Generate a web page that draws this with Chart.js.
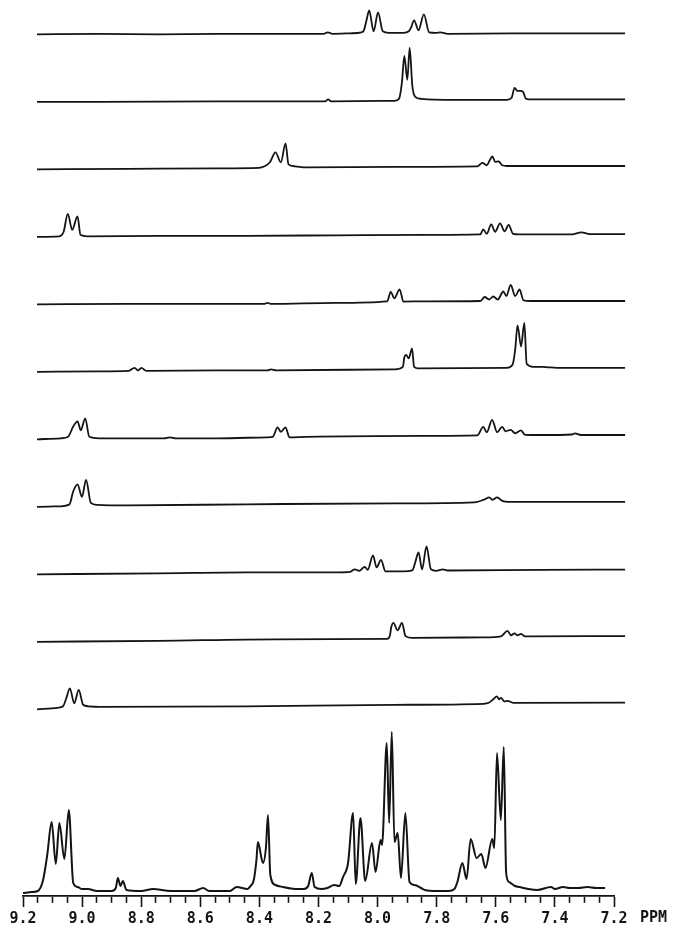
<!DOCTYPE html>
<html>
<head>
<meta charset="utf-8">
<script src="https://cdn.jsdelivr.net/npm/chart.js@4.4.1/dist/chart.umd.min.js"></script>
<style>
html,body{margin:0;padding:0;background:#fff;}
#wrap{width:689px;height:928px;position:relative;}
</style>
</head>
<body>
<div id="wrap"><canvas id="c" width="689" height="928"></canvas></div>
<script>
// ---------------- DATA (chemical shift in ppm, intensity in arbitrary units) ----------------
const majorTicks = [9.2, 9.0, 8.8, 8.6, 8.4, 8.2, 8.0, 7.8, 7.6, 7.4, 7.2];
const axisUnit = "PPM";

// stacked 1D slices, top to bottom
const trace1Ppm = [9.21, 9.0, 8.8, 8.6, 8.4, 8.24, 8.226, 8.21, 8.15, 8.112, 8.104, 8.095, 8.086, 8.071, 8.056, 8.040, 8.02, 7.97, 7.952, 7.944, 7.934, 7.919, 7.901, 7.883, 7.86, 7.845, 7.82, 7.6, 7.4, 7.22];
const trace1Int = [0, 0.5, 0, 0.5, 0.5, 0.5, 2, 0.5, 1, 2, 4, 14, 24, 3, 22, 3, 1.5, 1.5, 3, 7, 14, 4, 20, 2, 1.5, 2, 0.5, 1, 1, 1];

const trace2Ppm = [9.21, 9.0, 8.6, 8.4, 8.235, 8.225, 8.215, 8.0, 7.985, 7.975, 7.967, 7.957, 7.949, 7.940, 7.930, 7.91, 7.80, 7.62, 7.604, 7.594, 7.585, 7.575, 7.565, 7.556, 7.545, 7.4, 7.22];
const trace2Int = [0, 0, 0.5, 0.5, 0.5, 2.5, 0.5, 1, 3, 20, 46, 22, 54, 16, 5, 3, 2, 2, 4, 14, 11, 11, 10, 3, 2.5, 2.5, 2.4];

const trace3Ppm = [9.21, 8.9, 8.6, 8.46, 8.44, 8.422, 8.403, 8.385, 8.369, 8.359, 8.337, 8.30, 8.0, 7.72, 7.703, 7.688, 7.678, 7.669, 7.660, 7.648, 7.636, 7.62, 7.4, 7.22];
const trace3Int = [0, 0.5, 1, 1.5, 3, 7, 17, 7, 26, 5, 3, 2, 2.5, 3, 6.5, 4, 9, 13, 7.5, 8, 4, 3.3, 3.3, 3.3];

const trace4Ppm = [9.21, 9.135, 9.12, 9.106, 9.091, 9.073, 9.063, 9.04, 8.8, 8.5, 8.2, 7.9, 7.71, 7.700, 7.688, 7.673, 7.660, 7.643, 7.628, 7.614, 7.599, 7.58, 7.40, 7.368, 7.34, 7.22];
const trace4Int = [0, 0.5, 5, 23, 7, 20.5, 2, 0.5, 1, 1, 1.5, 2, 2.5, 7.5, 3, 12.5, 5, 13.5, 5.5, 12, 3, 2.5, 2.5, 4.5, 2.7, 2.7];

const trace5Ppm = [9.21, 8.9, 8.6, 8.44, 8.43, 8.42, 8.2, 8.025, 8.013, 8.001, 7.983, 7.970, 7.90, 7.71, 7.695, 7.680, 7.666, 7.651, 7.632, 7.622, 7.607, 7.592, 7.577, 7.564, 7.54, 7.22];
const trace5Int = [0, 0.5, 0.5, 0.5, 1.5, 0.5, 1.5, 3, 12.5, 6, 15, 2.7, 3, 3.3, 7.3, 4.8, 7.8, 4.8, 12.8, 8.3, 19.3, 8.3, 14.8, 4, 3.3, 3.3];

const trace6Ppm = [9.21, 9.0, 8.90, 8.880, 8.868, 8.857, 8.84, 8.60, 8.43, 8.418, 8.40, 8.0, 7.972, 7.967, 7.961, 7.952, 7.941, 7.934, 7.92, 7.62, 7.601, 7.592, 7.584, 7.572, 7.561, 7.553, 7.531, 7.50, 7.48, 7.45, 7.22];
const trace6Int = [0, 0.5, 1, 4, 1.5, 4, 1, 1.5, 1.5, 2.5, 1.5, 2.5, 5, 14.5, 17, 13.5, 23.5, 5, 3.5, 4, 7, 22, 46.5, 25.5, 49, 8, 5, 5, 4.5, 4, 4];

const trace7Ppm = [9.21, 9.13, 9.105, 9.088, 9.073, 9.062, 9.047, 9.033, 9.00, 8.78, 8.761, 8.74, 8.6, 8.43, 8.412, 8.396, 8.385, 8.369, 8.356, 8.3, 7.9, 7.72, 7.700, 7.688, 7.670, 7.653, 7.636, 7.624, 7.607, 7.592, 7.572, 7.559, 7.50, 7.40, 7.390, 7.37, 7.22];
const trace7Int = [0, 1, 2.5, 12.5, 18, 9, 21, 2.5, 1, 1, 2, 1, 1, 2, 2.5, 12, 7.5, 12, 2, 2.5, 3.5, 4, 12.5, 7, 19.5, 7, 12.5, 8, 9.5, 6, 9, 4.5, 4.3, 4.8, 6, 4.3, 4.3];

const trace8Ppm = [9.21, 9.13, 9.100, 9.088, 9.073, 9.058, 9.044, 9.028, 9.007, 8.9, 8.5, 8.0, 7.73, 7.695, 7.680, 7.668, 7.653, 7.636, 7.614, 7.22];
const trace8Int = [0, 0.5, 2.5, 15, 22.5, 10, 27, 4, 2, 1.5, 2.5, 3.5, 4.5, 7.5, 9.5, 7, 9.5, 6, 5, 5];

const trace9Ppm = [9.21, 8.8, 8.5, 8.20, 8.15, 8.135, 8.120, 8.101, 8.091, 8.073, 8.061, 8.046, 8.031, 7.97, 7.940, 7.930, 7.919, 7.907, 7.892, 7.877, 7.859, 7.837, 7.82, 7.5, 7.22];
const trace9Int = [0, 1, 2, 2, 2.5, 5, 3.5, 7.5, 4.5, 19, 7, 14.5, 3, 3, 4, 12, 22, 5, 28, 5, 3.5, 5, 3.8, 4.5, 4.7];

const trace10Ppm = [9.21, 8.8, 8.4, 8.025, 8.016, 8.011, 8.004, 7.990, 7.975, 7.963, 7.94, 7.7, 7.64, 7.618, 7.606, 7.594, 7.584, 7.572, 7.559, 7.22];
const trace10Int = [0, 1, 2.5, 3, 6, 15, 19, 11.5, 19, 5.7, 4, 4.5, 5.5, 11, 6.5, 8.5, 6.5, 8, 5.5, 5.7];

const trace11Ppm = [9.21, 9.14, 9.122, 9.111, 9.099, 9.084, 9.069, 9.054, 9.036, 9.00, 8.5, 8.0, 7.70, 7.681, 7.666, 7.654, 7.646, 7.640, 7.629, 7.618, 7.599, 7.22];
const trace11Int = [0, 1.5, 3, 11, 21, 6, 19.5, 4.5, 3, 2.5, 3, 4.5, 5.5, 6.5, 10, 13, 10, 11.5, 8, 8.5, 6.5, 6.6];

// full 1D spectrum (bottom)
const fullPpm = [9.20, 9.17, 9.15, 9.132, 9.118, 9.103, 9.089, 9.077, 9.060, 9.045, 9.030, 9.015, 9.00, 8.98, 8.95, 8.90, 8.886, 8.879, 8.870, 8.862, 8.85, 8.80, 8.76, 8.70, 8.62, 8.59, 8.57, 8.50, 8.477, 8.44, 8.43, 8.419, 8.41, 8.405, 8.388, 8.378, 8.371, 8.363, 8.346, 8.32, 8.28, 8.25, 8.235, 8.223, 8.213, 8.19, 8.17, 8.147, 8.13, 8.117, 8.10, 8.083, 8.074, 8.058, 8.042, 8.019, 8.007, 7.99, 7.985, 7.969, 7.961, 7.952, 7.943, 7.932, 7.921, 7.906, 7.892, 7.875, 7.853, 7.84, 7.80, 7.76, 7.74, 7.730, 7.713, 7.699, 7.685, 7.665, 7.649, 7.635, 7.612, 7.605, 7.596, 7.583, 7.573, 7.565, 7.555, 7.545, 7.535, 7.52, 7.49, 7.46, 7.413, 7.40, 7.373, 7.35, 7.32, 7.29, 7.26, 7.23];
const fullInt = [0, 1, 2, 13, 38, 71, 29, 70, 34, 83, 10, 6, 4, 4, 2, 2, 5, 15, 7, 12, 3, 2, 4, 2, 2, 5, 2, 2, 6, 4, 7, 13, 33, 51, 30, 45, 78, 18, 8, 6, 4, 4, 7, 20, 6, 4, 5, 8, 7, 16, 30, 80, 9, 75, 12, 50, 21, 53, 48, 150, 70, 161, 51, 60, 15, 80, 11, 8, 5, 3, 2, 2, 4, 11, 30, 14, 54, 35, 39, 25, 54, 45, 140, 73, 146, 20, 11, 9, 7, 6, 4, 3, 6, 4, 6, 5, 5, 6, 5, 5];

// ---------------- LAYOUT ----------------
const plotHeight = 896;          // chart-area height in px (1 y unit = 1 px)
const firstBaseline = 34.3;      // px from top, first slice
const sliceSpacing = 67.5;       // px between slice baselines
const fullBaseline = 893;        // px from top, bottom spectrum
const sliceShiftPpm = 0.0575;    // slices are drawn offset to the right

const slices = [
  [trace1Ppm, trace1Int], [trace2Ppm, trace2Int], [trace3Ppm, trace3Int],
  [trace4Ppm, trace4Int], [trace5Ppm, trace5Int], [trace6Ppm, trace6Int],
  [trace7Ppm, trace7Int], [trace8Ppm, trace8Int], [trace9Ppm, trace9Int],
  [trace10Ppm, trace10Int], [trace11Ppm, trace11Int]
];

function toPoints(ppm, inten, base) {
  if (ppm.length !== inten.length) throw new Error('length mismatch ' + ppm.length + ' vs ' + inten.length);
  return ppm.map((p, i) => ({x: p, y: base + inten[i]}));
}

const ink = '#141414';
const datasets = slices.map((s, i) => ({
  data: toPoints(s[0], s[1], plotHeight - (firstBaseline + sliceSpacing * i)),
  xAxisID: 'xs', yAxisID: 'y',
  borderColor: ink, borderWidth: 1.8, pointRadius: 0, fill: false,
  cubicInterpolationMode: 'monotone', clip: false
}));
datasets.push({
  data: toPoints(fullPpm, fullInt, plotHeight - fullBaseline),
  xAxisID: 'x', yAxisID: 'y',
  borderColor: ink, borderWidth: 2, pointRadius: 0, fill: false,
  cubicInterpolationMode: 'monotone', clip: false
});

const isMajor = v => Math.round(v * 100) % 20 === 0;
const allTicks = [];
for (let k = 720; k <= 920; k += 5) allTicks.push(k / 100);

const unitLabel = {
  id: 'unitLabel',
  afterDraw(chart) {
    const s = chart.scales.x;
    const ctx = chart.ctx;
    ctx.save();
    ctx.font = 'bold 15px "DejaVu Sans Mono"';
    ctx.fillStyle = ink;
    ctx.textAlign = 'left';
    ctx.textBaseline = 'middle';
    ctx.fillText(axisUnit, s.right + 26, s.top + 22);
    ctx.restore();
  }
};

new Chart(document.getElementById('c'), {
  type: 'line',
  data: {datasets},
  plugins: [unitLabel],
  options: {
    responsive: false,
    animation: false,
    devicePixelRatio: 1,
    layout: {padding: {left: 23, right: 75, top: 0, bottom: 0}},
    plugins: {legend: {display: false}, tooltip: {enabled: false}},
    scales: {
      x: {
        type: 'linear', position: 'bottom', reverse: true, min: 7.2, max: 9.2,
        afterBuildTicks: s => { s.ticks = allTicks.map(v => ({value: v})); },
        afterFit: s => { s.height = 928 - plotHeight; },
        grid: {
          drawOnChartArea: false, drawTicks: true, tickLength: 11,
          tickWidth: 1.6, tickColor: ink,
          tickBorderDash: ctx => (ctx.tick && isMajor(ctx.tick.value)) ? [] : [6, 40]
        },
        border: {display: true, color: ink, width: 1.8},
        ticks: {
          autoSkip: false, maxRotation: 0, padding: 3, color: ink,
          font: {family: 'DejaVu Sans Mono', size: 15, weight: 'bold'},
          callback: v => isMajor(v) ? Number(v).toFixed(1) : ''
        }
      },
      xs: {
        type: 'linear', display: false, reverse: true,
        min: 7.2 + sliceShiftPpm, max: 9.2 + sliceShiftPpm
      },
      y: {type: 'linear', display: false, min: 0, max: plotHeight}
    }
  }
});
</script>
</body>
</html>
